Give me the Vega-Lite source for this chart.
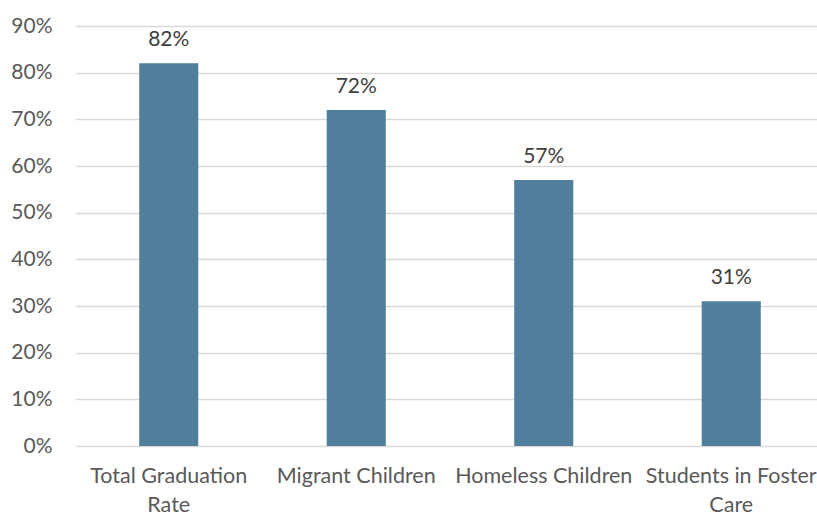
{
  "$schema": "https://vega.github.io/schema/vega-lite/v6.json",
  "autosize": "none",
  "width": 750,
  "height": 420,
  "padding": {"left": 75, "top": 26, "right": 0, "bottom": 69},
  "background": "white",
  "config": {"view": {"stroke": null}, "font": "Lato"},
  "data": {"values": [
    {"group": "Total Graduation Rate", "rate": 0.82},
    {"group": "Migrant Children", "rate": 0.72},
    {"group": "Homeless Children", "rate": 0.57},
    {"group": "Students in Foster Care", "rate": 0.31}
  ]},
  "encoding": {
    "x": {"field": "group", "type": "nominal", "sort": null,
      "scale": {"paddingInner": 0.685, "paddingOuter": 0.3425},
      "axis": {"title": null, "labelAngle": 0, "domain": false, "ticks": false, "labelLimit": 0,
        "labelFontSize": 21.5, "labelColor": "#595959", "labelPadding": 19, "labelLineHeight": 29, "labelFont": "Lato",
        "labelExpr": "datum.value == 'Total Graduation Rate' ? ['Total Graduation', 'Rate'] : datum.value == 'Students in Foster Care' ? ['Students in Foster', 'Care'] : datum.value"}},
    "y": {"field": "rate", "type": "quantitative",
      "scale": {"domain": [0, 0.9], "nice": false},
      "axis": {"title": null, "format": ".0%", "values": [0, 0.1, 0.2, 0.3, 0.4, 0.5, 0.6, 0.7, 0.8, 0.9],
        "domain": false, "ticks": false, "gridColor": "#d9d9d9", "gridWidth": 1.5,
        "labelFontSize": 21, "labelColor": "#595959", "labelPadding": 23, "labelFont": "Lato"}}
  },
  "layer": [
    {"mark": {"type": "bar", "color": "#4F7F9C"}},
    {"mark": {"type": "text", "baseline": "alphabetic", "dy": -17, "fontSize": 21, "color": "#404040", "font": "Lato"},
      "encoding": {"text": {"field": "rate", "type": "quantitative", "format": ".0%"}}}
  ]
}
